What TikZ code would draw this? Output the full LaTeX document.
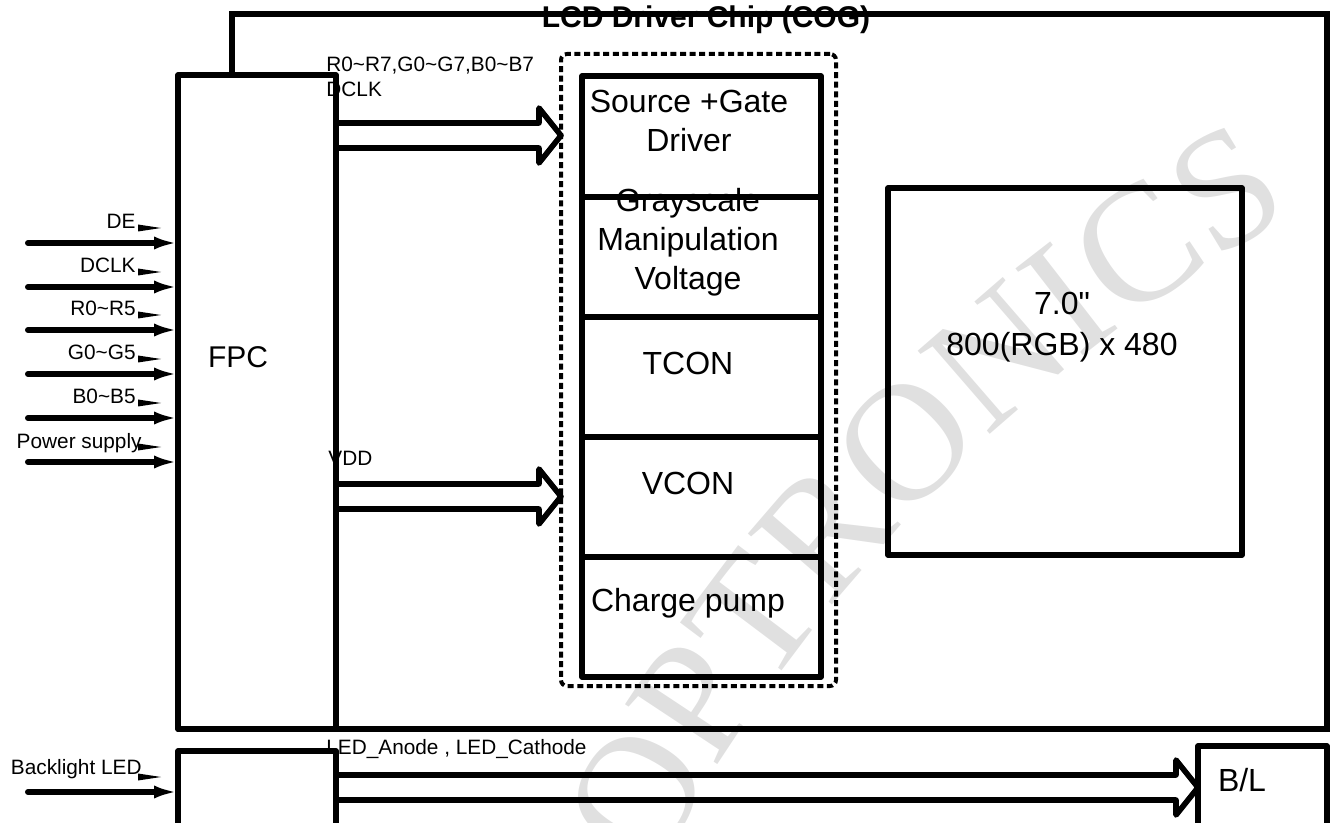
\documentclass[tikz,border=0pt]{standalone}
\usepackage{fontspec}
\setmainfont{Liberation Sans}
\newfontfamily\wmfont{Liberation Serif}
\usetikzlibrary{arrows.meta,calc,fit,decorations.text}

\newcommand{\tld}{\textasciitilde}
% flecha hueca de bus: origen, destino, altura del eje
\newcommand{\hollowbus}[3]{%
  \draw[bus] (#1.east |- 0,#3-12.5) -- ($(#2.west |- 0,#3-12.5)+(-22,0)$)
    -- ++(0,-15) -- (#2.west |- 0,#3) -- ($(#2.west |- 0,#3+27.5)+(-22,0)$)
    -- ++(0,-15) -- (#1.east |- 0,#3+12.5);
}

\begin{document}
\begin{tikzpicture}[x=0.5pt,y=-0.5pt,line cap=round,line join=round,
    box/.style={draw,line width=2.6pt,inner sep=0pt,outer sep=0pt},
    bus/.style={line width=2.8pt},
    sig/.style={line width=3pt,-{Latex[length=12pt,width=6.5pt]}},
    lbl/.style={font=\fontsize{10.4}{12}\selectfont,inner sep=0pt},
    blocktxt/.style={font=\fontsize{16}{19.5}\selectfont,align=center,inner sep=0pt}]
    \path[use as bounding box] (0,0) rectangle (1338,823);
    \clip (0,0) rectangle (1338,823);

    % Marca de agua
    \path[decorate,decoration={text along path,text align=center,
        text={|\fontsize{84}{84}\selectfont\wmfont\color{black!12}|OPTRONICS}}]
        (2100,1630) ++(200:1630) arc[start angle=200,end angle=248,radius=1630];

    % Chip y FPC
    \draw[line width=2.6pt,line join=miter] (232,75) -- (232,14) -- (1327,14) -- (1327,729) -- (178,729);
    \node[font=\bfseries\fontsize{15}{18}\selectfont] (title) at (706,20) {LCD Driver Chip (COG)};
    \node[box,fit={(178,75) (336,729)}] (fpc) {};
    \node[font=\fontsize{15}{18}\selectfont] (fpctxt) at (238,357) {FPC};

    % Bloques del controlador
    \node[fit={(561,54) (836,686)},draw,line width=2pt,line cap=butt,dash pattern=on 3pt off 1.8pt,
        rounded corners=3pt,inner sep=0pt,outer sep=0pt] (drv) {};
    \foreach \n/\t/\b in {src/76/197,gray/197/317,tcon/317/437,vcon/437/557,pump/557/677} {
        \node[box,fit={(582,\t) (821,\b)}] (\n) {};
    }
    \node[blocktxt] (srctxt) at (689,121) {Source +Gate\\Driver};
    \node[blocktxt] (graytxt) at (688,242) {Grayscale\\Manipulation\\Voltage};
    \node[blocktxt] (tcontxt) at (688,363) {TCON};
    \node[blocktxt] (vcontxt) at (688,483) {VCON};
    \node[blocktxt] (pumptxt) at (688,603) {Charge pump};

    % Panel
    \node[box,fit={(888,188) (1242,555)}] (lcd) {};
    \node[blocktxt,font=\fontsize{16}{20.5}\selectfont] (lcdtxt) at (1062,327)
        {7.0\textquotedbl\\800(RGB) x 480};

    % Entradas al FPC
    \foreach \i/\y/\lx/\t in {1/243/136/DE,2/287/136/DCLK,3/330/136/R0\tld R5,
            4/374/136/G0\tld G5,5/418/136/B0\tld B5,6/462/142/Power supply} {
        \coordinate (in\i) at (28,\y);
        \draw[sig] (in\i) -- (fpc.west |- in\i);
        \node[lbl,anchor=base east] (lab\i) at (\lx,\y-14) {\t};
        \fill (138,\y-18.5) -- (161,\y-15) -- (138,\y-11.5) -- cycle;
    }

    % Buses hacia el controlador
    \node[lbl,anchor=base west] (rgbtxt) at (326,72) {R0\tld R7,G0\tld G7,B0\tld B7};
    \node[lbl,anchor=base west] (clktxt) at (326,97) {DCLK};
    \hollowbus{fpc}{drv}{135.5}
    \node[lbl,anchor=base west] (vddtxt) at (328,466) {VDD};
    \hollowbus{fpc}{drv}{496.5}

    % Retroiluminación
    \node[box,fit={(178,751) (336,850)}] (blfpc) {};
    \node[box,fit={(1198,746) (1327,850)}] (bl) {};
    \node[blocktxt] (bltxt) at (1242,780) {B/L};
    \coordinate (in7) at (28,792);
    \draw[sig] (in7) -- (blfpc.west |- in7);
    \node[lbl,anchor=base east] (lab7) at (142,774) {Backlight LED};
    \fill (138,773.5) -- (161,777) -- (138,780.5) -- cycle;
    \node[lbl,anchor=base west] (ledtxt) at (326,754) {LED\_Anode , LED\_Cathode};
    \hollowbus{blfpc}{bl}{787.5}
\end{tikzpicture}
\end{document}
